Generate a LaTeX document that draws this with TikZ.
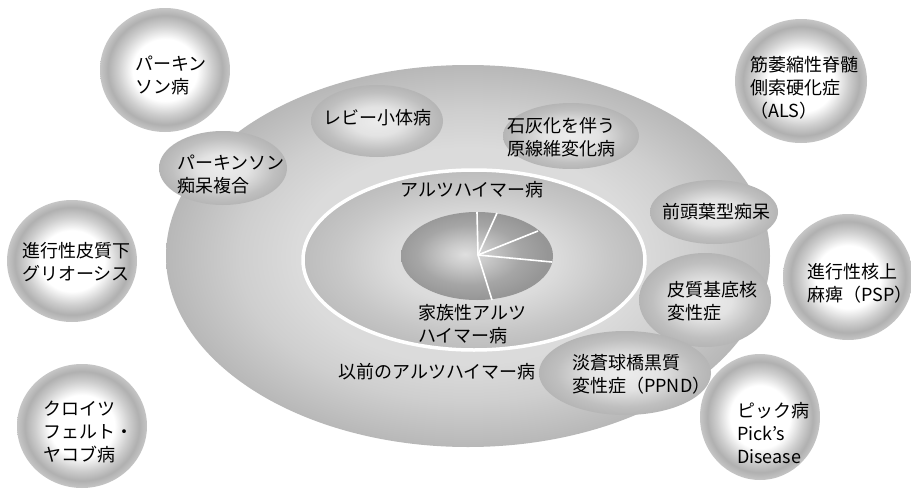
\documentclass[tikz,border=0pt]{standalone}
\usepackage{fontspec}
\newfontfamily\jp{Noto Sans CJK JP}
\pgfdeclareradialshading{ringshade}{\pgfpoint{0bp}{0bp}}{color(0bp)=(white); color(12.5bp)=(white); color(18bp)=(gray!38); color(22bp)=(gray!62); color(25bp)=(gray!45); color(50bp)=(gray!45)}
\pgfdeclareradialshading{bigshade}{\pgfpoint{0bp}{0bp}}{color(0bp)=(gray!30); color(14bp)=(gray!28); color(19bp)=(gray!38); color(25bp)=(gray!56); color(50bp)=(gray!56)}
\pgfdeclareradialshading{blobshade}{\pgfpoint{0bp}{0bp}}{color(0bp)=(gray!15); color(10bp)=(gray!22); color(20bp)=(gray!50); color(25bp)=(gray!58); color(50bp)=(gray!58)}
\pgfdeclareradialshading{midshade}{\pgfpoint{0bp}{0bp}}{color(0bp)=(gray!20); color(12bp)=(gray!28); color(20bp)=(gray!44); color(25bp)=(gray!52); color(50bp)=(gray!52)}
\pgfdeclareradialshading{coreshade}{\pgfpoint{-4bp}{1bp}}{color(0bp)=(gray!25); color(7bp)=(gray!42); color(17bp)=(gray!70); color(25bp)=(gray!82); color(50bp)=(gray!82)}
\tikzset{
  lbl/.style={font=\jp\fontsize{18}{23}\selectfont, align=left, inner sep=0pt, anchor=west},
  lblc/.style={font=\jp\fontsize{18}{23}\selectfont, align=center, inner sep=0pt},
  ring/.style={shading=ringshade},
  blob/.style={shading=blobshade},
  pieline/.style={white, line width=1.6pt}
}
\begin{document}
\begin{tikzpicture}[x=1pt,y=-1pt]
\useasboundingbox (0,0) rectangle (911,490);
\fill[white] (0,0) rectangle (911,490);

% large region
\shade[shading=bigshade] (468,256) ellipse [x radius=302pt, y radius=191pt];

% blobs inside the large region
\shade[blob] (377,121) ellipse [x radius=66pt, y radius=36pt];
\shade[blob] (571,136) ellipse [x radius=68pt, y radius=33pt];
\shade[blob] (223,168) ellipse [x radius=64pt, y radius=37pt];
\shade[blob] (714,212) ellipse [x radius=64pt, y radius=32pt];
\shade[blob] (705,300) ellipse [x radius=66pt, y radius=47pt];
\shade[blob] (625,373) ellipse [x radius=86pt, y radius=42pt];

% Alzheimer region with white border
\shade[shading=midshade] (474,260) ellipse [x radius=171pt, y radius=90pt];
\draw[white, line width=3.5pt] (474,260) ellipse [x radius=171pt, y radius=90pt];

% familial core
\shade[shading=coreshade] (477,256) ellipse [x radius=76pt, y radius=44pt];
\coordinate (pc) at (478,255);
\coordinate (p1) at (477,212);
\coordinate (p2) at (497,213);
\coordinate (p3) at (538,231);
\coordinate (p4) at (552,262);
\coordinate (p5) at (492,300);
\draw[pieline] (pc) -- (p1);
\draw[pieline] (pc) -- (p2);
\draw[pieline] (pc) -- (p3);
\draw[pieline] (pc) -- (p4);
\draw[pieline] (pc) -- (p5);

% outer circles
\shade[ring] (165,70) ellipse [x radius=65pt, y radius=62pt];
\shade[ring] (801,81) ellipse [x radius=66pt, y radius=62pt];
\shade[ring] (72,261) ellipse [x radius=65pt, y radius=61pt];
\shade[ring] (82,426) ellipse [x radius=65pt, y radius=62pt];
\shade[ring] (848,277) ellipse [x radius=65pt, y radius=63pt];
\shade[ring] (760,417) ellipse [x radius=60pt, y radius=63pt];

% labels in circles
\node[lbl] (pd) at (135,75) {パーキン\\ソン病};
\node[lbl] (als) at (750,88) {筋萎縮性脊髄\\側索硬化症\\（ALS）};
\node[lbl] (psg) at (22,262) {進行性皮質下\\グリオーシス};
\node[lbl] (cjd) at (43,432) {クロイツ\\フェルト・\\ヤコブ病};
\node[lbl] (psp) at (807,283) {進行性核上\\麻痺（PSP）};
\node[lbl] (pick) at (737,433) {ピック病\\Pick’s\\Disease};

% labels in the large region
\node[lblc] (lewy) at (377,118) {レビー小体病};
\node[lbl] (calc) at (507,137) {石灰化を伴う\\原線維変化病};
\node[lbl] (pdc) at (177,174) {パーキンソン\\痴呆複合};
\node[lbl] (ftd) at (662,212) {前頭葉型痴呆};
\node[lbl] (cbd) at (667,301) {皮質基底核\\変性症};
\node[lbl] (ppnd) at (572,374) {淡蒼球橋黒質\\変性症（PPND）};
\node[lblc] (ad) at (472,190) {アルツハイマー病};
\node[lbl] (fad) at (418,324) {家族性アルツ\\ハイマー病};
\node[lbl] (oad) at (338,372) {以前のアルツハイマー病};
\end{tikzpicture}
\end{document}
